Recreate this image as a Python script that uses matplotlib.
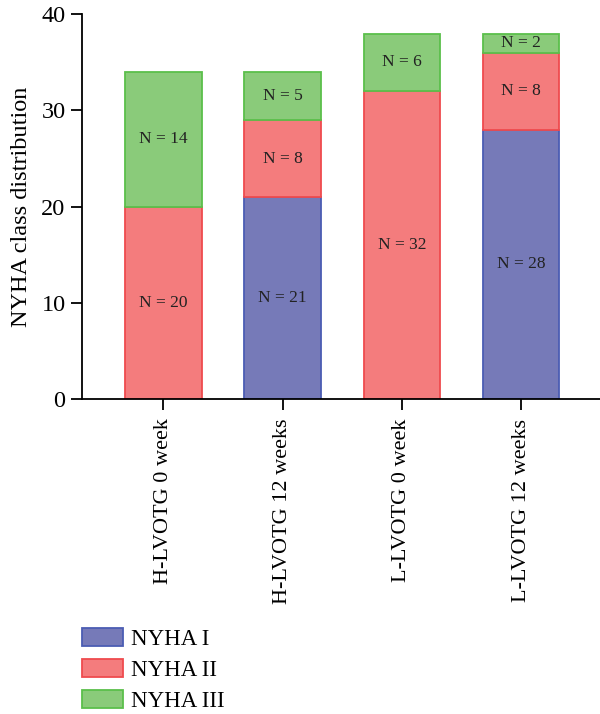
import numpy as np
import matplotlib.pyplot as plt

plt.rcParams['font.family'] = ['Liberation Serif', 'DejaVu Serif']

groups = ['H-LVOTG 0 week', 'H-LVOTG 12 weeks', 'L-LVOTG 0 week', 'L-LVOTG 12 weeks']
nyha1 = [0, 21, 0, 28]
nyha2 = [20, 8, 32, 8]
nyha3 = [14, 5, 6, 2]
classes = ['NYHA I', 'NYHA II', 'NYHA III']

fills = ['#767ab8', '#f47c7d', '#8acb7a']
edges = ['#4b5db3', '#ef4b4e', '#5bbf4b']

fig = plt.figure(figsize=(6, 7.14), dpi=100)
ax = fig.add_axes([0.137, 0.441, 0.863, 0.539])

x = np.arange(len(groups))
bottom = np.zeros(len(groups))
handles = []
for vals, fc, ec, name in zip([nyha1, nyha2, nyha3], fills, edges, classes):
    vals = np.array(vals, dtype=float)
    bars = ax.bar(x, vals, 0.64, bottom=bottom, color=fc, edgecolor=ec,
                  linewidth=1.3, label=name)
    handles.append(bars)
    for xi, b, v in zip(x, bottom, vals):
        if v > 0:
            ax.text(xi, b + v / 2, 'N = %d' % v, ha='center', va='center',
                    fontsize=12.5, color='#222222')
    bottom += vals

ax.set_xlim(-0.68, 3.66)
ax.set_ylim(0, 40)
ax.set_yticks([0, 10, 20, 30, 40])
ax.set_xticks(x)
ax.set_xticklabels(groups, rotation=90, fontsize=16)
ax.tick_params(axis='y', labelsize=17.5, length=8, width=1.3, pad=4)
ax.tick_params(axis='x', length=8, width=1.3, pad=6)
ax.set_ylabel('NYHA class distribution', fontsize=17.5, labelpad=7)
for s in ['top', 'right']:
    ax.spines[s].set_visible(False)
for s in ['left', 'bottom']:
    ax.spines[s].set_linewidth(1.3)

fig.legend(handles=handles, labels=classes, loc='upper left',
           bbox_to_anchor=(0.103, 0.15), frameon=False, fontsize=16.5,
           handlelength=1.75, handleheight=0.85, labelspacing=0.4,
           handletextpad=0.35)

fig.savefig('out.png', dpi=100)
